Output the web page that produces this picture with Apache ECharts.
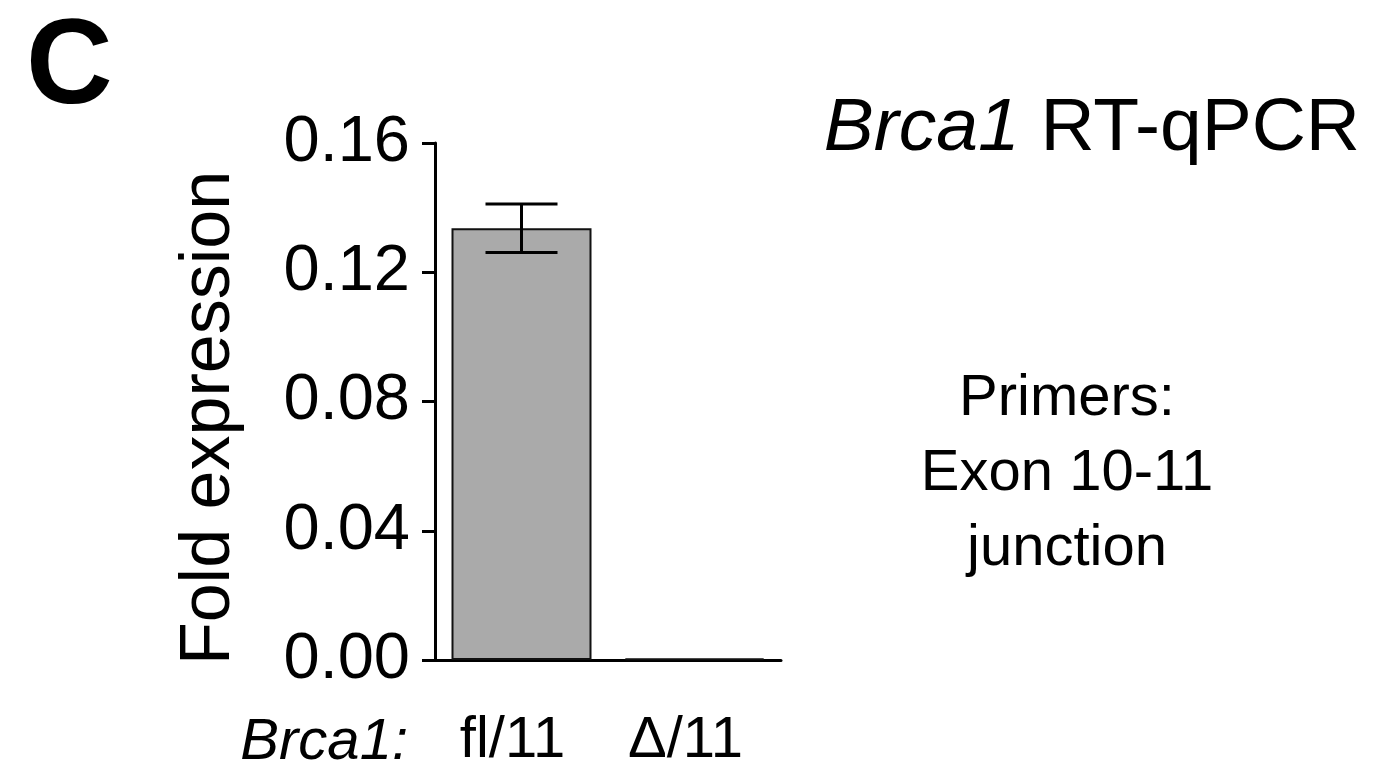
<!DOCTYPE html>
<html>
<head>
<meta charset="utf-8">
<script src="https://cdn.jsdelivr.net/npm/echarts@6/dist/echarts.min.js"></script>
<style>
html,body{margin:0;padding:0;background:#fff;}
#main{width:1373px;height:775px;}
</style>
</head>
<body>
<div id="main"></div>
<script>
const categories = ['fl/11', '\u0394/11'];
const means = [0.1336, 0.0005];
const errors = [0.0075, 0];
const yTicks = [0, 0.04, 0.08, 0.12, 0.16];

const FONT = '"Liberation Sans", Arial, Helvetica, sans-serif';
const chart = echarts.init(document.getElementById('main'));

const option = {
  backgroundColor: '#fff',
  animation: false,
  grid: { left: 435, right: 592, top: 143, bottom: 115, containLabel: false },
  xAxis: {
    type: 'category',
    data: categories,
    axisLine: { show: true, lineStyle: { color: '#000', width: 3 } },
    axisTick: { show: false },
    axisLabel: { color: '#000', fontFamily: FONT, fontSize: 58, margin: 52, padding: [0, 18, 0, 0] }
  },
  yAxis: {
    type: 'value',
    min: 0, max: 0.16, interval: 0.04,
    splitLine: { show: false },
    axisLine: { show: true, lineStyle: { color: '#000', width: 3 } },
    axisTick: { show: true, length: 13, lineStyle: { color: '#000', width: 3 } },
    axisLabel: { color: '#000', fontFamily: FONT, fontSize: 65, margin: 25,
      formatter: v => v.toFixed(2) }
  },
  series: [
    {
      type: 'bar',
      data: means,
      barWidth: 140,
      itemStyle: { color: '#aaaaaa', borderColor: '#111', borderWidth: 2 },
      z: 2
    },
    {
      type: 'custom',
      data: means.map((m, i) => [i, m, errors[i]]),
      renderItem: function (params, api) {
        const i = api.value(0), m = api.value(1), e = api.value(2);
        if (!e) return null;
        const top = api.coord([i, m + e]);
        const bot = api.coord([i, m - e]);
        const hw = 36;
        const style = { stroke: '#000', lineWidth: 3 };
        return {
          type: 'group',
          children: [
            { type: 'line', shape: { x1: top[0], y1: top[1], x2: bot[0], y2: bot[1] }, style },
            { type: 'line', shape: { x1: top[0] - hw, y1: top[1], x2: top[0] + hw, y2: top[1] }, style },
            { type: 'line', shape: { x1: bot[0] - hw, y1: bot[1], x2: bot[0] + hw, y2: bot[1] }, style }
          ]
        };
      },
      z: 3
    }
  ],
  graphic: [
    { type: 'text', left: 26, top: 10, style: { text: 'C', fontFamily: FONT, fontWeight: 'bold', fontSize: 120, fill: '#000' } },
    { type: 'text', x: 210, y: 418, rotation: Math.PI / 2,
      style: { text: 'Fold expression', fontFamily: FONT, fontSize: 70, fill: '#000', align: 'center', verticalAlign: 'middle' } },
    { type: 'text', x: 1360, y: 167,
      style: { rich: { i: { fontStyle: 'italic', fontFamily: FONT, fontSize: 75, fill: '#000' },
                       n: { fontFamily: FONT, fontSize: 75, fill: '#000' } },
               text: '{i|Brca1}{n| RT-qPCR}', align: 'right', verticalAlign: 'bottom', fill: '#000' } },
    { type: 'text', x: 1067, y: 474,
      style: { text: 'Primers:\nExon 10-11\njunction', fontFamily: FONT, fontSize: 58, lineHeight: 75,
               fill: '#000', align: 'center', verticalAlign: 'middle' } },
    { type: 'text', x: 408, y: 743,
      style: { text: 'Brca1:', fontFamily: FONT, fontStyle: 'italic', fontSize: 58, fill: '#000', align: 'right', verticalAlign: 'middle' } }
  ]
};
chart.setOption(option);
</script>
</body>
</html>
